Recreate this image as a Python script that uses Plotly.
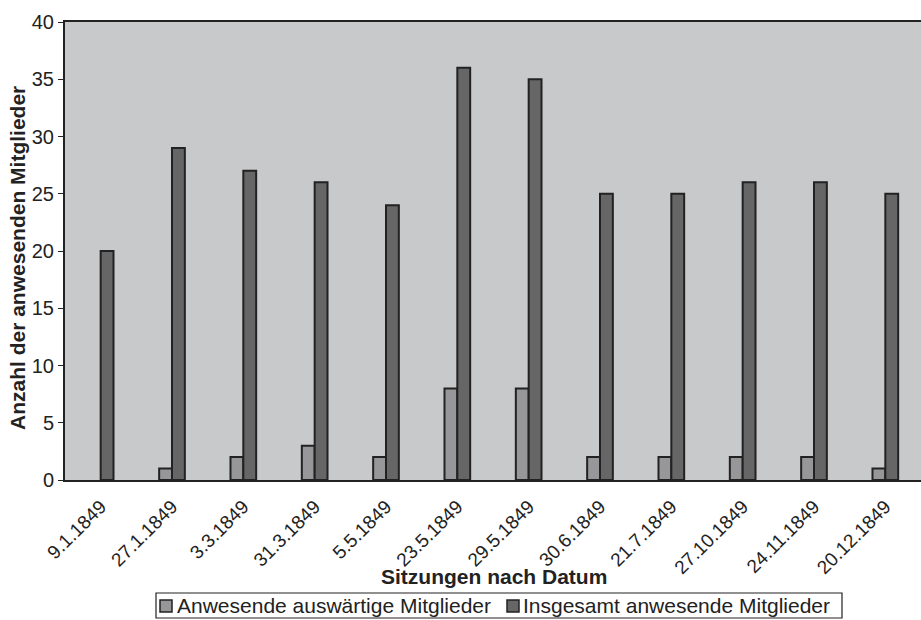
import plotly.graph_objects as go

dates = ["9.1.1849", "27.1.1849", "3.3.1849", "31.3.1849", "5.5.1849", "23.5.1849",
         "29.5.1849", "30.6.1849", "21.7.1849", "27.10.1849", "24.11.1849", "20.12.1849"]
auswaertig = [0, 1, 2, 3, 2, 8, 8, 2, 2, 2, 2, 1]
insgesamt = [20, 29, 27, 26, 24, 36, 35, 25, 25, 26, 26, 25]
series_names = ["Anwesende auswärtige Mitglieder", "Insgesamt anwesende Mitglieder"]
series_colors = ["#979799", "#666666"]

font = "Liberation Sans, Arial, sans-serif"
ink = "#222222"

W, H = 921, 620
M_L, M_R, M_T, M_B = 65, 0, 22, 140
PW, PH = W - M_L - M_R, H - M_T - M_B


def px(x):
    """Pixel column -> paper x."""
    return (x - M_L) / PW


def py(y):
    """Pixel row -> paper y."""
    return (H - M_B - y) / PH


fig = go.Figure()
fig.add_trace(go.Bar(
    x=dates, y=auswaertig, name=series_names[0],
    marker=dict(color=series_colors[0],
                line=dict(color=ink, width=[0 if v == 0 else 2 for v in auswaertig])),
))
fig.add_trace(go.Bar(
    x=dates, y=insgesamt, name=series_names[1],
    marker=dict(color=series_colors[1], line=dict(color=ink, width=2)),
))

# Boxed legend below the axis title
shapes = [dict(type="rect", xref="paper", yref="paper",
               x0=px(156), x1=px(842), y0=py(618), y1=py(593),
               line=dict(color=ink, width=1.2), fillcolor="white")]
annotations = []
for sx, tx, name, col in zip([160, 507], [175, 521], series_names, series_colors):
    shapes.append(dict(type="rect", xref="paper", yref="paper",
                       x0=px(sx), x1=px(sx + 12), y0=py(612), y1=py(600),
                       line=dict(color=ink, width=1.5), fillcolor=col))
    annotations.append(dict(xref="paper", yref="paper", x=px(tx), y=py(606),
                            xanchor="left", yanchor="middle", showarrow=False,
                            text=name, font=dict(size=21, family=font, color=ink)))

# Axis titles
annotations.append(dict(xref="paper", yref="paper", x=px(494), y=py(576),
                        xanchor="center", yanchor="middle", showarrow=False,
                        text="<b>Sitzungen nach Datum</b>",
                        font=dict(size=21, family=font, color=ink)))
annotations.append(dict(xref="paper", yref="paper", x=px(17), y=py(258),
                        xanchor="center", yanchor="middle", showarrow=False,
                        textangle=-90,
                        text="<b>Anzahl der anwesenden Mitglieder</b>",
                        font=dict(size=21, family=font, color=ink)))

fig.update_layout(
    width=W, height=H,
    margin=dict(l=M_L, r=M_R, t=M_T, b=M_B),
    paper_bgcolor="white",
    plot_bgcolor="#c8c9cb",
    barmode="group",
    bargap=0.64,
    bargroupgap=0,
    font=dict(family=font, color=ink),
    showlegend=False,
    shapes=shapes,
    annotations=annotations,
    xaxis=dict(
        automargin=False,
        showline=True, linecolor=ink, linewidth=2, mirror=True,
        showgrid=False, ticks="", tickangle=-45, ticklabelstandoff=6,
        tickfont=dict(size=19, family=font, color=ink),
    ),
    yaxis=dict(
        automargin=False,
        range=[0, 40], dtick=5,
        showline=True, linecolor=ink, linewidth=2,
        showgrid=False, zeroline=False,
        ticks="outside", ticklen=5, tickcolor=ink,
        tickfont=dict(size=20, family=font, color=ink),
    ),
)

fig.write_html("out.html")
